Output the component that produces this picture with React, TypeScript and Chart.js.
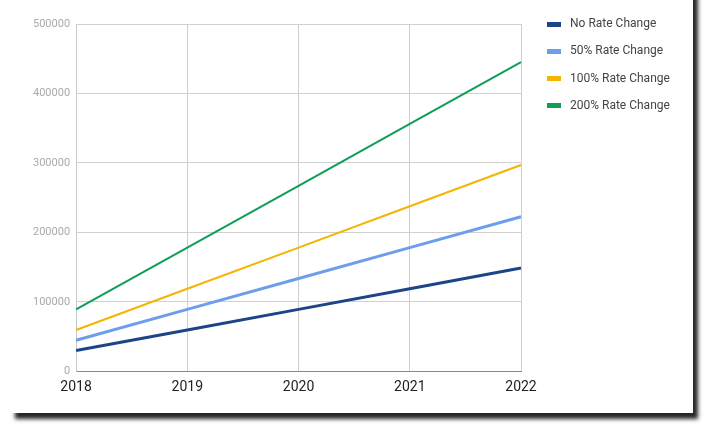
import React, { useEffect, useRef } from "react";
import { Chart, registerables } from "chart.js";

Chart.register(...registerables);

const years = ["2018", "2019", "2020", "2021", "2022"];
const noRateChange = [29700, 59400, 89000, 118800, 148500];
const rate50 = [44500, 89000, 133500, 178000, 222500];
const rate100 = [59400, 118800, 178000, 237600, 297000];
const rate200 = [89000, 178000, 267000, 356000, 445000];
const seriesNames = ["No Rate Change", "50% Rate Change", "100% Rate Change", "200% Rate Change"];

const sideLegend = {
  id: "sideLegend",
  afterDraw(chart: any) {
    const ctx = chart.ctx;
    const x0 = chart.chartArea.right + 26;
    const y0 = chart.chartArea.top;
    ctx.save();
    ctx.font = "12px Roboto";
    ctx.textBaseline = "middle";
    ctx.textAlign = "left";
    chart.data.datasets.forEach((ds: any, i: number) => {
      const y = y0 + i * 27.3;
      ctx.fillStyle = ds.borderColor;
      ctx.fillRect(x0, Math.round(y - 2.5), 14, 5);
      ctx.fillStyle = "#444";
      ctx.fillText(ds.label, x0 + 23, y);
    });
    ctx.restore();
  },
};

export default function App() {
  const ref = useRef<HTMLCanvasElement>(null);
  useEffect(() => {
    if (!ref.current) return;
    const colors = ["#1c4587", "#6d9eeb", "#f4b400", "#0f9d58"];
    const widths = [3, 3, 2, 2];
    const values = [noRateChange, rate50, rate100, rate200];
    const chart = new Chart(ref.current, {
      type: "line",
      data: {
        labels: years,
        datasets: values.map((v, i) => ({
          label: seriesNames[i],
          data: v,
          borderColor: colors[i],
          backgroundColor: colors[i],
          borderWidth: widths[i],
          pointRadius: 0,
          tension: 0,
        })),
      },
      plugins: [sideLegend],
      options: {
        animation: false,
        responsive: false,
        layout: { padding: { top: 24, left: 27, right: 172, bottom: 9 } },
        plugins: {
          tooltip: { enabled: false },
          legend: { display: false },
        },
        scales: {
          x: {
            grid: { color: "#d0d0d0", drawTicks: false },
            border: { color: "#888", width: 1 },
            ticks: { color: "#222", font: { family: "Roboto", size: 14 }, padding: 8, maxRotation: 0 },
          },
          y: {
            min: 0,
            max: 500000,
            grid: { color: "#d0d0d0", drawTicks: false },
            border: { color: "#c8c8c8" },
            ticks: {
              stepSize: 100000,
              color: "#aaa",
              font: { family: "Roboto", size: 11 },
              padding: 6,
              callback: (v: any) => String(v),
            },
          },
        },
      },
    });
    return () => chart.destroy();
  }, []);
  return (
    <div style={{ position: "fixed", left: 0, top: 0, width: 717, height: 432, background: "#fff", overflow: "hidden" }}>
      <div
        style={{
          position: "absolute",
          left: 10,
          top: -20,
          width: 683,
          height: 433,
          background: "#fff",
          boxShadow: "5px 6px 4px rgba(0,0,0,0.85)",
        }}
      />
      <canvas ref={ref} width={693} height={413} style={{ position: "absolute", left: 0, top: 0 }} />
    </div>
  );
}
